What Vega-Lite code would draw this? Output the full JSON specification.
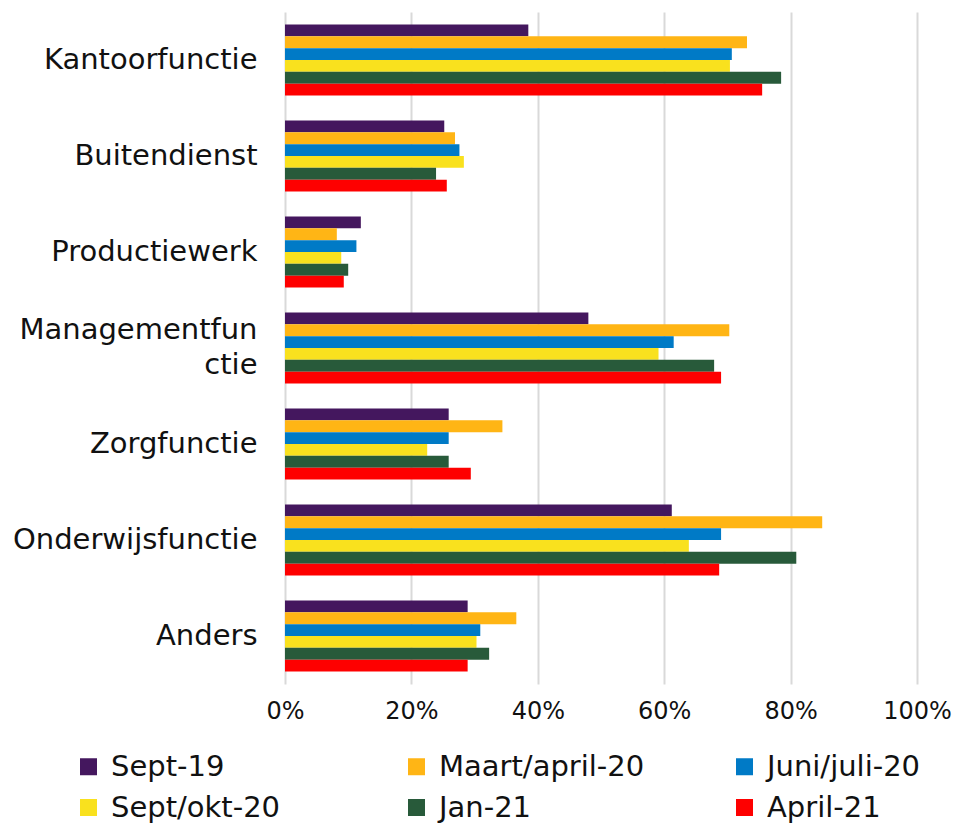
{
  "$schema": "https://vega.github.io/schema/vega-lite/v6.json",
  "width": 632,
  "height": 672,
  "autosize": {"type": "none"},
  "padding": {"left": 285, "top": 12, "right": 41, "bottom": 139},
  "background": "white",
  "config": {"view": {"stroke": null}, "font": "DejaVu Sans"},
  "data": {
    "values": [
      {"category": "Kantoorfunctie", "period": "Sept-19", "value": 38.5},
      {"category": "Kantoorfunctie", "period": "Maart/april-20", "value": 73.1},
      {"category": "Kantoorfunctie", "period": "Juni/juli-20", "value": 70.7},
      {"category": "Kantoorfunctie", "period": "Sept/okt-20", "value": 70.4},
      {"category": "Kantoorfunctie", "period": "Jan-21", "value": 78.5},
      {"category": "Kantoorfunctie", "period": "April-21", "value": 75.5},
      {"category": "Buitendienst", "period": "Sept-19", "value": 25.2},
      {"category": "Buitendienst", "period": "Maart/april-20", "value": 26.9},
      {"category": "Buitendienst", "period": "Juni/juli-20", "value": 27.6},
      {"category": "Buitendienst", "period": "Sept/okt-20", "value": 28.3},
      {"category": "Buitendienst", "period": "Jan-21", "value": 23.9},
      {"category": "Buitendienst", "period": "April-21", "value": 25.6},
      {"category": "Productiewerk", "period": "Sept-19", "value": 12.0},
      {"category": "Productiewerk", "period": "Maart/april-20", "value": 8.2},
      {"category": "Productiewerk", "period": "Juni/juli-20", "value": 11.3},
      {"category": "Productiewerk", "period": "Sept/okt-20", "value": 8.9},
      {"category": "Productiewerk", "period": "Jan-21", "value": 10.0},
      {"category": "Productiewerk", "period": "April-21", "value": 9.3},
      {"category": "Managementfunctie", "period": "Sept-19", "value": 48.0},
      {"category": "Managementfunctie", "period": "Maart/april-20", "value": 70.3},
      {"category": "Managementfunctie", "period": "Juni/juli-20", "value": 61.5},
      {"category": "Managementfunctie", "period": "Sept/okt-20", "value": 59.1},
      {"category": "Managementfunctie", "period": "Jan-21", "value": 67.9},
      {"category": "Managementfunctie", "period": "April-21", "value": 69.0},
      {"category": "Zorgfunctie", "period": "Sept-19", "value": 25.9},
      {"category": "Zorgfunctie", "period": "Maart/april-20", "value": 34.4},
      {"category": "Zorgfunctie", "period": "Juni/juli-20", "value": 25.9},
      {"category": "Zorgfunctie", "period": "Sept/okt-20", "value": 22.5},
      {"category": "Zorgfunctie", "period": "Jan-21", "value": 25.9},
      {"category": "Zorgfunctie", "period": "April-21", "value": 29.4},
      {"category": "Onderwijsfunctie", "period": "Sept-19", "value": 61.2},
      {"category": "Onderwijsfunctie", "period": "Maart/april-20", "value": 85.0},
      {"category": "Onderwijsfunctie", "period": "Juni/juli-20", "value": 69.0},
      {"category": "Onderwijsfunctie", "period": "Sept/okt-20", "value": 63.9},
      {"category": "Onderwijsfunctie", "period": "Jan-21", "value": 80.9},
      {"category": "Onderwijsfunctie", "period": "April-21", "value": 68.7},
      {"category": "Anders", "period": "Sept-19", "value": 28.9},
      {"category": "Anders", "period": "Maart/april-20", "value": 36.6},
      {"category": "Anders", "period": "Juni/juli-20", "value": 30.9},
      {"category": "Anders", "period": "Sept/okt-20", "value": 30.3},
      {"category": "Anders", "period": "Jan-21", "value": 32.3},
      {"category": "Anders", "period": "April-21", "value": 28.9}
    ]
  },
  "mark": {"type": "bar"},
  "encoding": {
    "y": {
      "field": "category",
      "type": "nominal",
      "sort": ["Kantoorfunctie", "Buitendienst", "Productiewerk", "Managementfunctie", "Zorgfunctie", "Onderwijsfunctie", "Anders"],
      "scale": {"paddingInner": 0.26, "paddingOuter": 0.13},
      "axis": {
        "title": null,
        "ticks": false,
        "domain": false,
        "labelFontSize": 29,
        "labelFont": "DejaVu Sans",
        "labelColor": "#111111",
        "labelPadding": 28,
        "labelLimit": 400,
        "labelLineHeight": 35,
        "labelOffset": {"condition": {"test": "datum.value == 'Managementfunctie'", "value": -18}, "value": 0},
        "labelExpr": "datum.value == 'Managementfunctie' ? ['Managementfun', 'ctie'] : datum.value"
      }
    },
    "yOffset": {
      "field": "period",
      "type": "nominal",
      "sort": ["Sept-19", "Maart/april-20", "Juni/juli-20", "Sept/okt-20", "Jan-21", "April-21"],
      "scale": {"paddingInner": 0, "paddingOuter": 0}
    },
    "x": {
      "field": "value",
      "type": "quantitative",
      "scale": {"domain": [0, 100], "nice": false},
      "axis": {
        "title": null,
        "values": [0, 20, 40, 60, 80, 100],
        "labelExpr": "datum.value + '%'",
        "labelFlush": false,
        "grid": true,
        "gridColor": "#d9d9d9",
        "gridWidth": 2,
        "domain": false,
        "ticks": false,
        "labelFontSize": 24,
        "labelFont": "DejaVu Sans",
        "labelColor": "#111111",
        "labelPadding": 15
      }
    },
    "color": {
      "field": "period",
      "type": "nominal",
      "sort": ["Sept-19", "Maart/april-20", "Juni/juli-20", "Sept/okt-20", "Jan-21", "April-21"],
      "scale": {
        "domain": ["Sept-19", "Maart/april-20", "Juni/juli-20", "Sept/okt-20", "Jan-21", "April-21"],
        "range": ["#44175e", "#ffb515", "#007ac6", "#f9e11e", "#285a3a", "#fe0000"]
      },
      "legend": {
        "title": null,
        "orient": "none",
        "legendX": -211,
        "legendY": 740,
        "padding": 0,
        "direction": "horizontal",
        "columns": 3,
        "gridAlign": "all",
        "columnPadding": 85,
        "rowPadding": 11,
        "symbolType": "square",
        "symbolSize": 289,
        "symbolStrokeWidth": 0,
        "symbolOpacity": 1,
        "labelFontSize": 29,
        "labelFont": "DejaVu Sans",
        "labelColor": "#111111",
        "labelOffset": 8,
        "labelLimit": 400
      }
    }
  }
}
